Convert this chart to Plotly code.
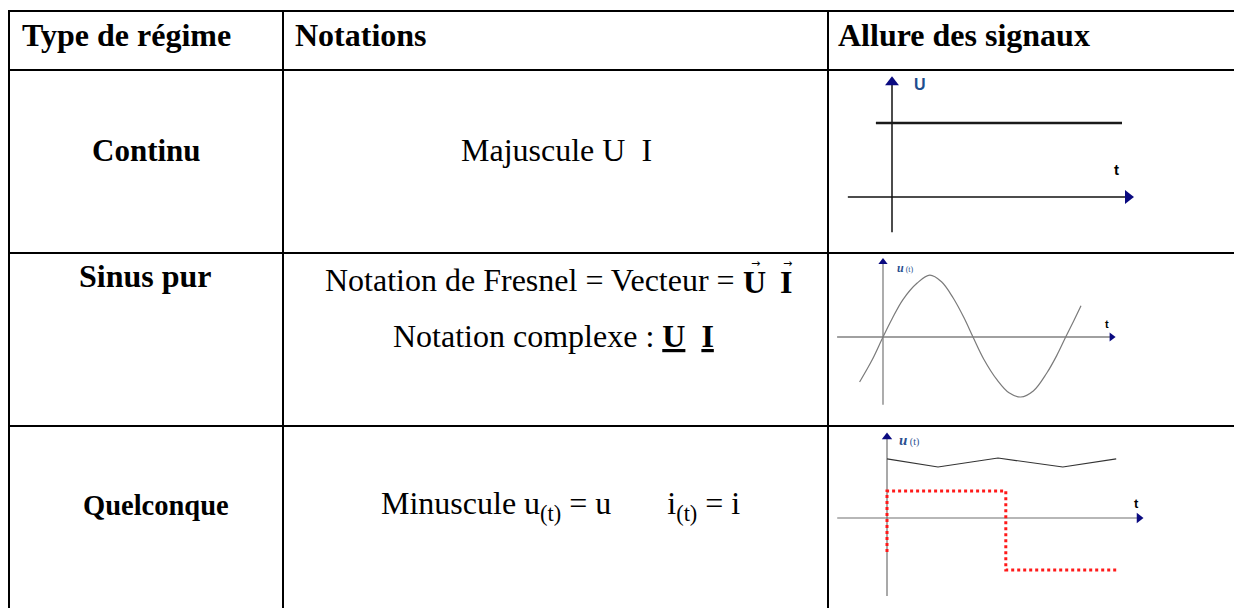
import plotly.graph_objects as go

W, H = 1234, 608

# ---- table text ----
headers = ['Type de régime', 'Notations', 'Allure des signaux']
regimes = ['Continu', 'Sinus pur', 'Quelconque']
regime_sizes = [31, 32, 28.5]
notations = [
    ['Majuscule U  I'],
    ['Notation de Fresnel = Vecteur =',
     'Notation complexe : <b><u>U</u></b>  <b><u>I</u></b>'],
    ['Minuscule u<sub>(t)</sub> = u       i<sub>(t)</sub> = i'],
]
vectors = ['U', 'I']

# ---- signal 1 : continu ----
c1_t = [-0.35, 5.0]
c1_u = [2.0, 2.0]
c1_taxis = [-0.96, 5.13]
c1_uaxis = [-0.95, 3.1]

# ---- signal 2 : sinus pur ----
c2_t = [-0.26, -0.12, 0, 0.1, 0.22, 0.38, 0.52, 0.65, 0.78, 0.9, 1.0, 1.12, 1.27, 1.4, 1.53, 1.67, 1.82, 1.93, 2.03, 2.12, 2.2]
c2_u = [-0.75, -0.38, 0, 0.3, 0.62, 0.9, 1.03, 0.92, 0.65, 0.32, 0, -0.37, -0.72, -0.93, -1.0, -0.9, -0.6, -0.31, 0, 0.27, 0.52]
c2_taxis = [-0.51, 2.54]
c2_uaxis = [-1.13, 1.25]

# ---- signal 3 : quelconque ----
c3_t = [0, 0.85, 1.85, 2.93, 3.82]
c3_u = [1.97, 1.7, 2.0, 1.7, 1.97]
c3_sq_t = [0, 0, 1.98, 1.98, 3.82]
c3_sq_u = [-1.13, 0.9, 0.9, -1.73, -1.73]
c3_taxis = [-0.83, 4.2]
c3_uaxis = [-2.6, 2.7]


def px(x):
    return x / W


def py(y):
    return 1 - y / H


def mini_axes(box, origin, sx, sy):
    # box = (x0, y0, x1, y1) in pixels, origin = axis crossing in pixels
    x0, y0, x1, y1 = box
    ox, oy = origin
    xa = dict(domain=[px(x0), px(x1)], range=[(x0 - ox) / sx, (x1 - ox) / sx],
              visible=False, fixedrange=True)
    ya = dict(domain=[py(y1), py(y0)], range=[(oy - y1) / sy, (oy - y0) / sy],
              visible=False, fixedrange=True)
    return xa, ya


fig = go.Figure()

NAVY = '#0a0a80'
charts = [
    dict(ax='', box=(834, 73, 1150, 250), origin=(892, 197), sx=46, sy=37,
         taxis=c1_taxis, uaxis=c1_uaxis, axcol='#111111', axw=1.5, tri=12),
    dict(ax='2', box=(834, 256, 1150, 424), origin=(883, 337), sx=90, sy=60,
         taxis=c2_taxis, uaxis=c2_uaxis, axcol='#808080', axw=1.3, tri=8),
    dict(ax='3', box=(834, 429, 1150, 606), origin=(887, 518), sx=60, sy=30,
         taxis=c3_taxis, uaxis=c3_uaxis, axcol='#707070', axw=1.2, tri=9),
]

layout_axes = {}
for c in charts:
    xa, ya = mini_axes(c['box'], c['origin'], c['sx'], c['sy'])
    layout_axes['xaxis' + c['ax']] = xa
    layout_axes['yaxis' + c['ax']] = ya
    xr, yr = 'x' + c['ax'], 'y' + c['ax']
    # axes of the sketch
    fig.add_trace(go.Scatter(x=c['taxis'], y=[0, 0], mode='lines', xaxis=xr, yaxis=yr,
                             line=dict(color=c['axcol'], width=c['axw']), hoverinfo='skip'))
    fig.add_trace(go.Scatter(x=[0, 0], y=c['uaxis'], mode='lines', xaxis=xr, yaxis=yr,
                             line=dict(color=c['axcol'], width=c['axw']), hoverinfo='skip'))
    fig.add_trace(go.Scatter(x=[c['taxis'][1]], y=[0], mode='markers', xaxis=xr, yaxis=yr,
                             marker=dict(symbol='triangle-right', size=c['tri'], color=NAVY),
                             hoverinfo='skip'))
    fig.add_trace(go.Scatter(x=[0], y=[c['uaxis'][1]], mode='markers', xaxis=xr, yaxis=yr,
                             marker=dict(symbol='triangle-up', size=c['tri'], color=NAVY),
                             hoverinfo='skip'))

# signals
fig.add_trace(go.Scatter(x=c1_t, y=c1_u, mode='lines', xaxis='x', yaxis='y',
                         line=dict(color='#1a1a1a', width=2.5)))
fig.add_trace(go.Scatter(x=c2_t, y=c2_u, mode='lines', xaxis='x2', yaxis='y2',
                         line=dict(color='#7a7a7a', width=1.2, shape='spline')))
fig.add_trace(go.Scatter(x=c3_t, y=c3_u, mode='lines', xaxis='x3', yaxis='y3',
                         line=dict(color='#333333', width=1.2)))
fig.add_trace(go.Scatter(x=c3_sq_t, y=c3_sq_u, mode='lines', xaxis='x3', yaxis='y3',
                         line=dict(color='#ff1a1a', width=3, dash='dot')))

ann = []
SERIF = 'Liberation Serif'
# headers
for txt, x0 in zip(headers, [20, 293, 836]):
    ann.append(dict(text='<b>' + txt + '</b>', x=px(x0), y=py(35), xanchor='left', yanchor='middle',
                    xref='paper', yref='paper',
                    font=dict(family=SERIF, size=32, color='black')))
# regime names
for txt, fs, (cx, cy) in zip(regimes, regime_sizes, [(146, 150), (145, 276), (156, 505)]):
    ann.append(dict(text='<b>' + txt + '</b>', x=px(cx), y=py(cy), xanchor='center', yanchor='middle',
                    xref='paper', yref='paper',
                    font=dict(family=SERIF, size=fs, color='black')))
# notations
note_pos = [[(556, 150, 'center')], [(737, 280, 'right'), (553, 336, 'center')], [(560, 505, 'center')]]
for lines, poss in zip(notations, note_pos):
    for txt, (cx, cy, anc) in zip(lines, poss):
        ann.append(dict(text=txt, x=px(cx), y=py(cy), xanchor=anc, yanchor='middle',
                        xref='paper', yref='paper',
                        font=dict(family=SERIF, size=32, color='black')))
# Fresnel vectors : bold letter with a small arrow above
for v, cx in zip(vectors, [754, 786]):
    ann.append(dict(text='<b>' + v + '</b>', x=px(cx), y=py(282), xanchor='center', yanchor='middle',
                    xref='paper', yref='paper',
                    font=dict(family=SERIF, size=32, color='black')))
    ann.append(dict(text='\u2192', x=px(cx + 1), y=py(263), xanchor='center', yanchor='middle',
                    xref='paper', yref='paper',
                    font=dict(family='DejaVu Sans', size=11, color='black')))

# labels on the sketches
ann.append(dict(text='<b>U</b>', x=0.61, y=3.03, xref='x', yref='y', xanchor='center', yanchor='middle',
                font=dict(family='Liberation Sans', size=16, color='#1d4e8f')))
ann.append(dict(text='<b>t</b>', x=4.89, y=0.73, xref='x', yref='y', xanchor='center', yanchor='middle',
                font=dict(family='Liberation Sans', size=15, color='black')))
ann.append(dict(text='<b><i>u</i></b><span style="font-size:8px"> (t)</span>', x=0.25, y=1.15,
                xref='x2', yref='y2', xanchor='center', yanchor='middle',
                font=dict(family=SERIF, size=12, color='#2a4f8f')))
ann.append(dict(text='<b>t</b>', x=2.49, y=0.22, xref='x2', yref='y2', xanchor='center', yanchor='middle',
                font=dict(family='Liberation Sans', size=11, color='black')))
ann.append(dict(text='<b><i>u</i></b><span style="font-size:10px"> (t)</span>', x=0.36, y=2.6,
                xref='x3', yref='y3', xanchor='center', yanchor='middle',
                font=dict(family=SERIF, size=15, color='#2a4f8f')))
ann.append(dict(text='<b>t</b>', x=4.15, y=0.5, xref='x3', yref='y3', xanchor='center', yanchor='middle',
                font=dict(family='Liberation Sans', size=13, color='black')))
for a in ann:
    a['showarrow'] = False

# table grid
shapes = []
for yl in [11, 70, 253, 426]:
    shapes.append(dict(type='line', xref='paper', yref='paper', x0=px(8), x1=1.01, y0=py(yl), y1=py(yl),
                       line=dict(color='black', width=2)))
for xl in [9, 283, 828]:
    shapes.append(dict(type='line', xref='paper', yref='paper', x0=px(xl), x1=px(xl), y0=py(10), y1=-0.01,
                       line=dict(color='black', width=2)))

fig.update_layout(
    width=W, height=H,
    margin=dict(l=0, r=0, t=0, b=0),
    paper_bgcolor='white', plot_bgcolor='rgba(0,0,0,0)',
    showlegend=False,
    annotations=ann, shapes=shapes,
    **layout_axes
)

fig.write_html("out.html", config={'displayModeBar': False},
               post_script="document.body.style.margin='0px';")
